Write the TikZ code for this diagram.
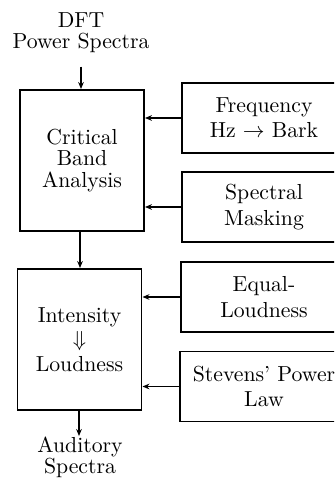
\documentclass[tikz,border=0pt]{standalone}
\usetikzlibrary{arrows.meta}
\newlength\pxu
\setlength\pxu{0.46pt}
\begin{document}
\begin{tikzpicture}[x=\pxu,y=-\pxu,
  every node/.style={font=\fontsize{10}{9.8}\selectfont, align=center, inner sep=0pt},
  lbox/.style={draw, line width=0.9pt, minimum width=124*\pxu, minimum height=141*\pxu},
  rbox/.style={draw, line width=0.9pt, minimum width=164*\pxu, minimum height=70*\pxu,
    font=\fontsize{10}{11.6}\selectfont},
  arr/.style={line width=0.7pt, -{Stealth[length=3.2pt,width=2.6pt]}}]
\useasboundingbox (0,0) rectangle (334,482);
\clip (0,0) rectangle (334,482);
\node (dft) at (81,33) {DFT\\Power Spectra};
\node[lbox] (cba) at (82,160.5) {Critical\\Band\\Analysis};
\node[lbox] (il) at (79.5,339.5) {Intensity\\[1.5pt]$\Downarrow$\\[1.5pt]Loudness};
\node (aud) at (80,457) {Auditory\\Spectra};
\node[rbox] (fr) at (264,118) {Frequency\\Hz $\rightarrow$ Bark};
\node[rbox] (sm) at (264,207) {Spectral\\Masking};
\node[rbox, minimum width=166*\pxu] (el) at (264,297) {Equal-\\Loudness};
\node[rbox, minimum width=168*\pxu] (sp) at (264,386.5) {Stevens' Power\\Law};
\draw[arr, shorten <=6pt] (dft.south) -- (dft.south |- cba.north);
\draw[arr] (cba.south -| 80,0) -- (il.north -| 80,0);
\draw[arr] (il.south -| 79,0) -- (aud.north -| 79,0);
\draw[arr] (fr.west) -- (fr.west -| cba.east);
\draw[arr] (sm.west) -- (sm.west -| cba.east);
\draw[arr] (el.west) -- (el.west -| il.east);
\draw[arr] (sp.west) -- (sp.west -| il.east);
\end{tikzpicture}
\end{document}
